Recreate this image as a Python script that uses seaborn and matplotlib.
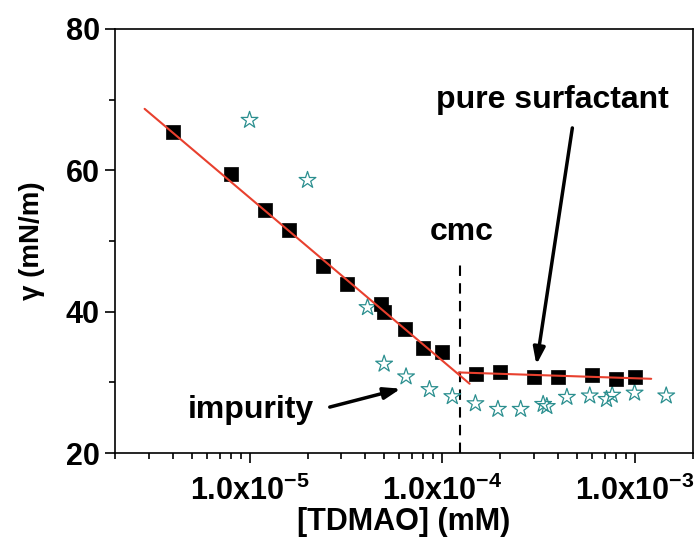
import numpy as np
import matplotlib
matplotlib.use('Agg')
import matplotlib.pyplot as plt
import seaborn as sns
from matplotlib.ticker import LogLocator, MultipleLocator, FixedLocator, FuncFormatter, NullFormatter

# pure surfactant (black squares)
conc_pure = [4.0e-6, 8.0e-6, 1.2e-5, 1.6e-5, 2.4e-5, 3.2e-5, 4.8e-5, 5.0e-5, 6.4e-5,
             8.0e-5, 1.0e-4, 1.5e-4, 2.0e-4, 3.0e-4, 4.0e-4, 6.0e-4, 8.0e-4, 1.0e-3]
gamma_pure = [65.4, 59.5, 54.4, 51.5, 46.4, 43.9, 41.1, 39.9, 37.5,
              34.9, 34.3, 31.2, 31.5, 30.8, 30.7, 31.0, 30.5, 30.8]

# with impurity (open stars)
conc_imp = [1.0e-5, 2.0e-5, 4.1e-5, 5.0e-5, 6.5e-5, 8.6e-5, 1.13e-4, 1.49e-4, 1.95e-4,
            2.56e-4, 3.35e-4, 3.5e-4, 4.45e-4, 5.85e-4, 7.15e-4, 7.65e-4, 1.0e-3, 1.46e-3]
gamma_imp = [67.1, 58.6, 40.6, 32.6, 30.8, 29.0, 28.0, 27.0, 26.2,
             26.2, 26.9, 26.6, 27.9, 28.1, 27.6, 28.2, 28.5, 28.1]

# linear fits (in log scale)
fit_low_x = [2.85e-6, 1.39e-4]
fit_low_y = [68.7, 29.8]
fit_high_x = [1.22e-4, 1.22e-3]
fit_high_y = [31.4, 30.5]

cmc = 1.24e-4
cmc_top = 47.0

sns.set_style('ticks')
plt.rcParams['font.family'] = ['Liberation Sans', 'DejaVu Sans']
plt.rcParams['font.weight'] = 'bold'
plt.rcParams['text.color'] = 'black'
plt.rcParams['axes.labelcolor'] = 'black'
plt.rcParams['xtick.color'] = 'black'
plt.rcParams['ytick.color'] = 'black'
plt.rcParams['mathtext.fontset'] = 'custom'
plt.rcParams['mathtext.rm'] = 'Liberation Sans:bold'
plt.rcParams['mathtext.bf'] = 'Liberation Sans:bold'
plt.rcParams['mathtext.it'] = 'Liberation Sans:bold:italic'
plt.rcParams['mathtext.default'] = 'rm'

teal = '#2b8f8f'
red = '#e8402e'

fig = plt.figure(figsize=(6.94, 5.45), dpi=100)
ax = fig.add_axes([0.1657, 0.1688, 0.8322, 0.778])

# stars first so squares sit on top
sns.scatterplot(x=conc_imp, y=gamma_imp, marker='*', s=160, color=teal,
                facecolor='none', edgecolor=teal, linewidth=0.9, ax=ax, zorder=2)
sns.scatterplot(x=conc_pure, y=gamma_pure, marker='s', s=95, color='black',
                edgecolor='black', linewidth=0.5, ax=ax, zorder=3)

sns.lineplot(x=fit_low_x, y=fit_low_y, color=red, linewidth=1.5, ax=ax, zorder=4)
sns.lineplot(x=fit_high_x, y=fit_high_y, color=red, linewidth=1.5, ax=ax, zorder=4)

ax.plot([cmc, cmc], [20, cmc_top], color='black', linewidth=1.5,
        linestyle=(0, (5, 3.5)), zorder=1)

ax.set_xscale('log')
ax.set_xlim(2e-6, 2e-3)
ax.set_ylim(20, 80)

ax.xaxis.set_major_locator(FixedLocator([1e-5, 1e-4, 1e-3]))
ax.xaxis.set_minor_locator(LogLocator(base=10, subs=np.arange(2, 10)))
ax.xaxis.set_major_formatter(FuncFormatter(
    lambda v, p: r'1.0x10$^{%d}$' % int(round(np.log10(v)))))
ax.xaxis.set_minor_formatter(NullFormatter())
ax.yaxis.set_major_locator(FixedLocator([20, 40, 60, 80]))
ax.yaxis.set_minor_locator(MultipleLocator(10))

ax.tick_params(which='major', direction='out', length=7, width=1.2, labelsize=22, pad=4)
ax.tick_params(axis='x', which='major', pad=9)
ax.tick_params(which='minor', direction='out', length=4, width=1.2)
for sp in ax.spines.values():
    sp.set_visible(True)
    sp.set_linewidth(1.2)
    sp.set_color('black')

ax.set_xlabel('[TDMAO] (mM)', fontsize=22, fontweight='bold', labelpad=0)
ax.set_ylabel('\u03b3 (mN/m)', fontsize=20, fontweight='bold', labelpad=15)

# annotations
ax.text(1.27e-4, 51.3, 'cmc', fontsize=23, fontweight='bold', ha='center', va='center')
ax.text(3.74e-4, 70.0, 'pure surfactant', fontsize=23, fontweight='bold',
        ha='center', va='center')
ax.text(1.02e-5, 26.1, 'impurity', fontsize=23, fontweight='bold',
        ha='center', va='center')

arrow = dict(arrowstyle='-|>,head_length=1.0,head_width=0.35', color='black',
             lw=2.5, shrinkA=0, shrinkB=0)
ax.annotate('', xy=(6.1e-5, 29.1), xytext=(2.61e-5, 26.5), arrowprops=arrow)
ax.annotate('', xy=(3.09e-4, 32.5), xytext=(4.75e-4, 66.0), arrowprops=arrow)

fig.savefig('out.png', dpi=100)
